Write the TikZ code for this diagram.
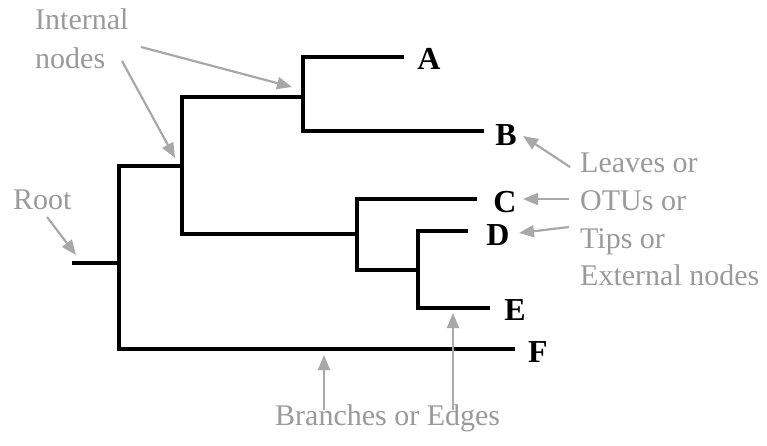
\documentclass[tikz,border=0pt]{standalone}
\usepackage{fontspec}
\setmainfont{Liberation Serif}
\usetikzlibrary{arrows.meta}
\definecolor{notegray}{HTML}{9A9A9A}
\definecolor{arrowgray}{HTML}{A8A8A8}
\begin{document}
\begin{tikzpicture}[x=1pt,y=-1pt,
  branch/.style={line width=4pt,line join=miter,line cap=butt},
  leaflabel/.style={anchor=base,inner sep=0pt,font=\fontsize{32}{36}\selectfont\bfseries},
  note/.style={anchor=base west,inner sep=0pt,text=notegray,font=\fontsize{30}{36}\selectfont},
  pointer/.style={draw=arrowgray,line width=2.2pt,-{Triangle[length=15pt,width=12pt]}}]
\useasboundingbox (0,0) rectangle (767,445);
% tree coordinates
\coordinate (r0) at (72,263);
\coordinate (r) at (119,263);
\coordinate (rt) at (119,166);
\coordinate (rb) at (119,349);
\coordinate (fend) at (515,349);
\coordinate (n1m) at (182,166);
\coordinate (n1t) at (182,97);
\coordinate (n1b) at (182,234);
\coordinate (n2m) at (303,97);
\coordinate (n2t) at (303,57);
\coordinate (n2b) at (303,131);
\coordinate (aend) at (404,57);
\coordinate (bend) at (484,131);
\coordinate (n3m) at (357,234);
\coordinate (n3t) at (357,199);
\coordinate (n3b) at (357,270);
\coordinate (cend) at (477,199);
\coordinate (n4m) at (418,270);
\coordinate (n4t) at (418,231);
\coordinate (n4b) at (418,308);
\coordinate (dend) at (468,231);
\coordinate (eend) at (490,308);
% branches
\draw[branch] (r0) -- (r);
\draw[branch] (n1m) -- (rt) -- (rb) -- (fend);
\draw[branch] (n2m) -- (n1t) -- (n1b) -- (n3m);
\draw[branch] (aend) -- (n2t) -- (n2b) -- (bend);
\draw[branch] (cend) -- (n3t) -- (n3b) -- (n4m);
\draw[branch] (dend) -- (n4t) -- (n4b) -- (eend);
% leaf labels
\node[leaflabel] (A) at (429,69) {A};
\node[leaflabel] (B) at (506,145) {B};
\node[leaflabel] (C) at (505,212) {C};
\node[leaflabel] (D) at (498,245) {D};
\node[leaflabel] (E) at (515,320) {E};
\node[leaflabel] (F) at (538,362) {F};
% notes
\node[note] (int1) at (35,29) {Internal};
\node[note] (int2) at (35,68) {nodes};
\node[note] (root) at (13,209) {Root};
\node[note] (lv1) at (580,172) {Leaves or};
\node[note] (lv2) at (580,210) {OTUs or};
\node[note] (lv3) at (580,248) {Tips or};
\node[note] (lv4) at (580,285) {External nodes};
\node[note] (br) at (275,425) {Branches or Edges};
% pointers
\coordinate (p1s) at (141,47);  \coordinate (p1e) at (292,87);
\coordinate (p2s) at (122,61);  \coordinate (p2e) at (175,158);
\coordinate (p3s) at (47,217);  \coordinate (p3e) at (76,255);
\coordinate (p4s) at (570,167); \coordinate (p4e) at (523,136);
\coordinate (p5s) at (569,199); \coordinate (p5e) at (523,199);
\coordinate (p6s) at (569,227); \coordinate (p6e) at (519,233);
\coordinate (p7s) at (324,410); \coordinate (p7e) at (324,355);
\coordinate (p8s) at (453,410); \coordinate (p8e) at (453,313);
\draw[pointer] (p1s) -- (p1e);
\draw[pointer] (p2s) -- (p2e);
\draw[pointer] (p3s) -- (p3e);
\draw[pointer] (p4s) -- (p4e);
\draw[pointer] (p5s) -- (p5e);
\draw[pointer] (p6s) -- (p6e);
\draw[pointer] (p7s) -- (p7e);
\draw[pointer] (p8s) -- (p8e);
\end{tikzpicture}
\end{document}
